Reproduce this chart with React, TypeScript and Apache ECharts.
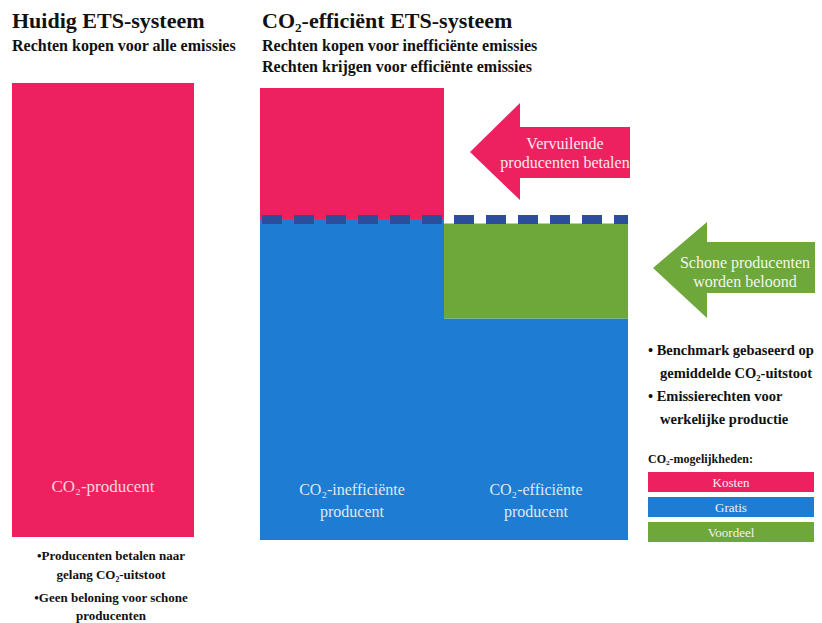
import React, { useEffect, useRef } from "react";
import * as echarts from "echarts";

// ---- data ----
const leftCategories = ["CO₂-producent"];
const leftKosten = [100];

const rightCategories = ["CO₂-inefficiënte\nproducent", "CO₂-efficiënte\nproducent"];
const rightGratis = [71, 49];
const rightVoordeel = [0, 21];
const rightKosten = [29, 0];
const benchmark = [71];

const legendNames = ["Kosten", "Gratis", "Voordeel"];
const legendTitle = "CO₂-mogelijkheden:";

const rightBullets = [
  "• Benchmark gebaseerd op",
  "gemiddelde CO₂-uitstoot",
  "• Emissierechten voor",
  "werkelijke productie",
];
const leftBullets = [
  "•Producenten betalen naar",
  "gelang CO₂-uitstoot",
  "•Geen beloning voor schone",
  "producenten",
];

const PINK = "#ee2160";
const BLUE = "#1e7dd2";
const GREEN = "#6ea73a";
const DARKBLUE = "#2b4d9b";
const SERIF = "'Liberation Serif', 'DejaVu Serif', serif";

export default function App() {
  const ref = useRef<HTMLDivElement>(null);

  useEffect(() => {
    if (!ref.current) return;
    const chart = echarts.init(ref.current, null, { renderer: "svg" });

    const legendColors = [PINK, BLUE, GREEN];
    const legendGraphics: any[] = [];
    legendGraphics.push({
      type: "text",
      x: 648,
      y: 459,
      style: { text: legendTitle, font: `bold 12px ${SERIF}`, fill: "#111", align: "left", verticalAlign: "middle" },
    });
    legendNames.forEach((n, i) => {
      const y = 472 + i * 25;
      legendGraphics.push({
        type: "rect",
        shape: { x: 648, y, width: 166, height: 20 },
        style: { fill: legendColors[i] },
      });
      legendGraphics.push({
        type: "text",
        x: 731,
        y: y + 10,
        style: { text: n, font: `13px ${SERIF}`, fill: "#f4f0f2", align: "center", verticalAlign: "middle" },
      });
    });

    const rightBulletY = [350, 373, 396, 419];
    const rightBulletX = [648, 660, 648, 660];
    const bulletGraphics = rightBullets.map((t, i) => ({
      type: "text",
      x: rightBulletX[i],
      y: rightBulletY[i],
      style: { text: t, font: `bold 14.5px ${SERIF}`, fill: "#111", align: "left", verticalAlign: "middle" },
    }));
    const leftBulletY = [555, 574, 597, 615];
    const leftBulletGraphics = leftBullets.map((t, i) => ({
      type: "text",
      x: 111,
      y: leftBulletY[i],
      style: { text: t, font: `bold 13px ${SERIF}`, fill: "#111", align: "center", verticalAlign: "middle" },
    }));

    const option: any = {
      animation: false,
      backgroundColor: "#ffffff",
      title: [
        {
          text: "Huidig ETS-systeem",
          subtext: "Rechten kopen voor alle emissies",
          left: 12,
          top: 9,
          padding: 0,
          itemGap: 4,
          textStyle: { fontFamily: SERIF, fontSize: 22, fontWeight: "bold", color: "#111" },
          subtextStyle: { fontFamily: SERIF, fontSize: 16, fontWeight: "bold", color: "#111", lineHeight: 21 },
        },
        {
          text: "CO₂-efficiënt ETS-systeem",
          subtext: "Rechten kopen voor inefficiënte emissies\nRechten krijgen voor efficiënte emissies",
          left: 262,
          top: 9,
          padding: 0,
          itemGap: 4,
          textStyle: { fontFamily: SERIF, fontSize: 22, fontWeight: "bold", color: "#111" },
          subtextStyle: { fontFamily: SERIF, fontSize: 16, fontWeight: "bold", color: "#111", lineHeight: 21 },
        },
      ],
      grid: [
        { left: 12, top: 83, width: 182, height: 454 },
        { left: 260, top: 88, width: 368, height: 452 },
      ],
      xAxis: [
        { type: "category", gridIndex: 0, data: leftCategories, show: false },
        { type: "category", gridIndex: 1, data: rightCategories, show: false },
      ],
      yAxis: [
        { type: "value", gridIndex: 0, min: 0, max: 100, show: false },
        { type: "value", gridIndex: 1, min: 0, max: 100, show: false },
      ],
      series: [
        {
          name: "Kosten",
          type: "bar",
          xAxisIndex: 0,
          yAxisIndex: 0,
          barWidth: "100%",
          data: leftKosten,
          itemStyle: { color: PINK },
          label: {
            show: true,
            position: "insideBottom",
            distance: 42,
            formatter: "{b}",
            color: "#fbd5df",
            fontFamily: SERIF,
            fontSize: 17,
          },
        },
        {
          name: "Gratis",
          type: "bar",
          xAxisIndex: 1,
          yAxisIndex: 1,
          stack: "r",
          barWidth: "100%",
          data: rightGratis,
          itemStyle: { color: BLUE },
          label: {
            show: true,
            position: "insideBottom",
            distance: 18,
            formatter: "{b}",
            color: "#dde9f6",
            fontFamily: SERIF,
            fontSize: 16,
            lineHeight: 22,
          },
        },
        {
          name: "Voordeel",
          type: "bar",
          xAxisIndex: 1,
          yAxisIndex: 1,
          stack: "r",
          barWidth: "100%",
          data: rightVoordeel,
          itemStyle: { color: GREEN },
        },
        {
          name: "Kosten",
          type: "bar",
          xAxisIndex: 1,
          yAxisIndex: 1,
          stack: "r",
          barWidth: "100%",
          data: rightKosten,
          itemStyle: { color: PINK },
          markLine: {
            silent: true,
            symbol: "none",
            label: { show: false },
            lineStyle: { color: DARKBLUE, width: 9, type: [20, 12], dashOffset: -2, opacity: 1 },
            data: benchmark.map((v) => ({ yAxis: v })),
          },
        },
      ],
      graphic: [
        {
          type: "polygon",
          shape: {
            points: [
              [470, 152], [520, 103], [520, 127], [630, 127], [630, 178], [520, 178], [520, 200],
            ],
          },
          style: { fill: PINK },
        },
        {
          type: "text",
          x: 565,
          y: 143,
          style: { text: "Vervuilende", font: `16px ${SERIF}`, fill: "#fde8ee", align: "center", verticalAlign: "middle" },
        },
        {
          type: "text",
          x: 565,
          y: 162,
          style: { text: "producenten betalen", font: `16px ${SERIF}`, fill: "#fde8ee", align: "center", verticalAlign: "middle" },
        },
        {
          type: "polygon",
          shape: {
            points: [
              [653, 268], [707, 222], [707, 242], [815, 242], [815, 293], [707, 293], [707, 318],
            ],
          },
          style: { fill: GREEN },
        },
        {
          type: "text",
          x: 745,
          y: 262,
          style: { text: "Schone producenten", font: `16px ${SERIF}`, fill: "#f2f6ec", align: "center", verticalAlign: "middle" },
        },
        {
          type: "text",
          x: 745,
          y: 281,
          style: { text: "worden beloond", font: `16px ${SERIF}`, fill: "#f2f6ec", align: "center", verticalAlign: "middle" },
        },
        ...bulletGraphics,
        ...legendGraphics,
        ...leftBulletGraphics,
      ],
    };

    chart.setOption(option);
    return () => chart.dispose();
  }, []);

  return (
    <div
      ref={ref}
      style={{ position: "fixed", left: 0, top: 0, width: 822, height: 623 }}
    />
  );
}
